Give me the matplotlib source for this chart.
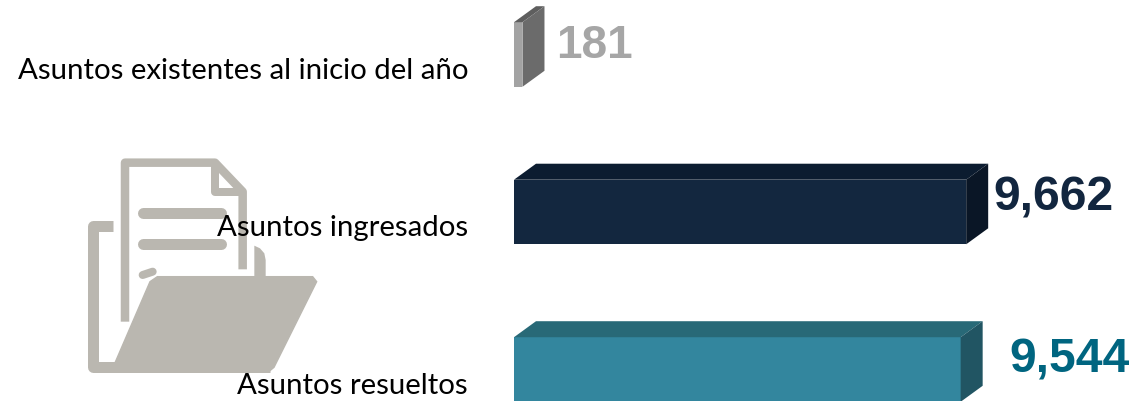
import matplotlib
matplotlib.use("Agg")
import matplotlib.pyplot as plt
from matplotlib.patches import Polygon
from matplotlib.transforms import Affine2D

categories = ["Asuntos existentes al inicio del año", "Asuntos ingresados", "Asuntos resueltos"]
values = [181, 9662, 9544]
front_colors = ["#A3A3A3", "#13273F", "#33869E"]
top_colors = ["#5E5E5E", "#0C1C30", "#286977"]
side_colors = ["#6B6B6B", "#0A1626", "#215563"]
text_colors = ["#A6A6A6", "#12263F", "#006580"]
label_baselines = [79, 236, 394]
value_pos = [(556, 58), (993, 211), (1009, 373)]

W, H = 1135, 401
fig = plt.figure(figsize=(W / 100, H / 100), dpi=100, facecolor="white")
ax = fig.add_axes([0, 0, 1, 1])
s = 0.0468      # px per unit
x0 = 514
ax.set_xlim(-x0 / s, (W - x0) / s)
ax.set_ylim((H - 54.5) / 157.5, -54.5 / 157.5)
ax.axis("off")
px = Affine2D().scale(1 / W, -1 / H).translate(0, 1) + fig.transFigure

# folder icon (pixels)
icon = "#BAB7B0"
def z(p):
    return [(70 + a / 3, 140 + b / 3) for a, b in p]
def stroke(p, w, cap="butt"):
    xs, ys = zip(*z(p))
    ax.plot(xs, ys, transform=px, color=icon, lw=w * 0.72, solid_capstyle=cap,
            solid_joinstyle="round", zorder=1, clip_on=False)
stroke([(128, 258), (70, 258), (70, 680), (600, 680)], 11)
stroke([(165, 545), (165, 68), (435, 68), (518, 155), (518, 388)], 8.5)
stroke([(435, 75), (435, 155), (518, 155)], 8)
stroke([(218, 218), (452, 218)], 11, "round")
stroke([(218, 313), (452, 313)], 11, "round")
stroke([(218, 405), (248, 395)], 8, "round")
ax.add_patch(Polygon(z([(553, 317), (570, 325), (583, 340), (587, 360), (587, 415), (553, 415)]),
                     closed=True, transform=px, facecolor=icon, edgecolor="none", zorder=1))
ax.add_patch(Polygon(z([(262, 410), (728, 410), (740, 425), (612, 682), (595, 696),
                        (130, 680), (240, 425)]), closed=True, transform=px,
                     facecolor=icon, edgecolor=icon, lw=1, zorder=2))

height = 0.41
dx = 22 / s
dy = 16 / 157.5
ypos = range(len(values))
ax.barh(list(ypos), values, height=height, color=front_colors, zorder=3)
for y, v, t, sd in zip(ypos, values, top_colors, side_colors):
    yt = y - height / 2
    yb = y + height / 2
    ax.add_patch(Polygon([(0, yt), (dx, yt - dy), (v + dx, yt - dy), (v, yt)], closed=True,
                         facecolor=t, edgecolor="none", zorder=3))
    ax.add_patch(Polygon([(v, yt), (v + dx, yt - dy), (v + dx, yb - dy), (v, yb)], closed=True,
                         facecolor=sd, edgecolor="none", zorder=3))

for c, b in zip(categories, label_baselines):
    ax.text(468, b, c, transform=px, family="Lato", fontsize=21.2, ha="right", va="baseline",
            color="black", zorder=5)
for v, (a, b), col in zip(values, value_pos, text_colors):
    ax.text(a, b, f"{v:,}", transform=px, family="Liberation Sans", weight="bold",
            fontsize=33 if v < 1000 else 34.6, color=col, ha="left", va="baseline", zorder=5)

fig.savefig("out.png", dpi=100)
